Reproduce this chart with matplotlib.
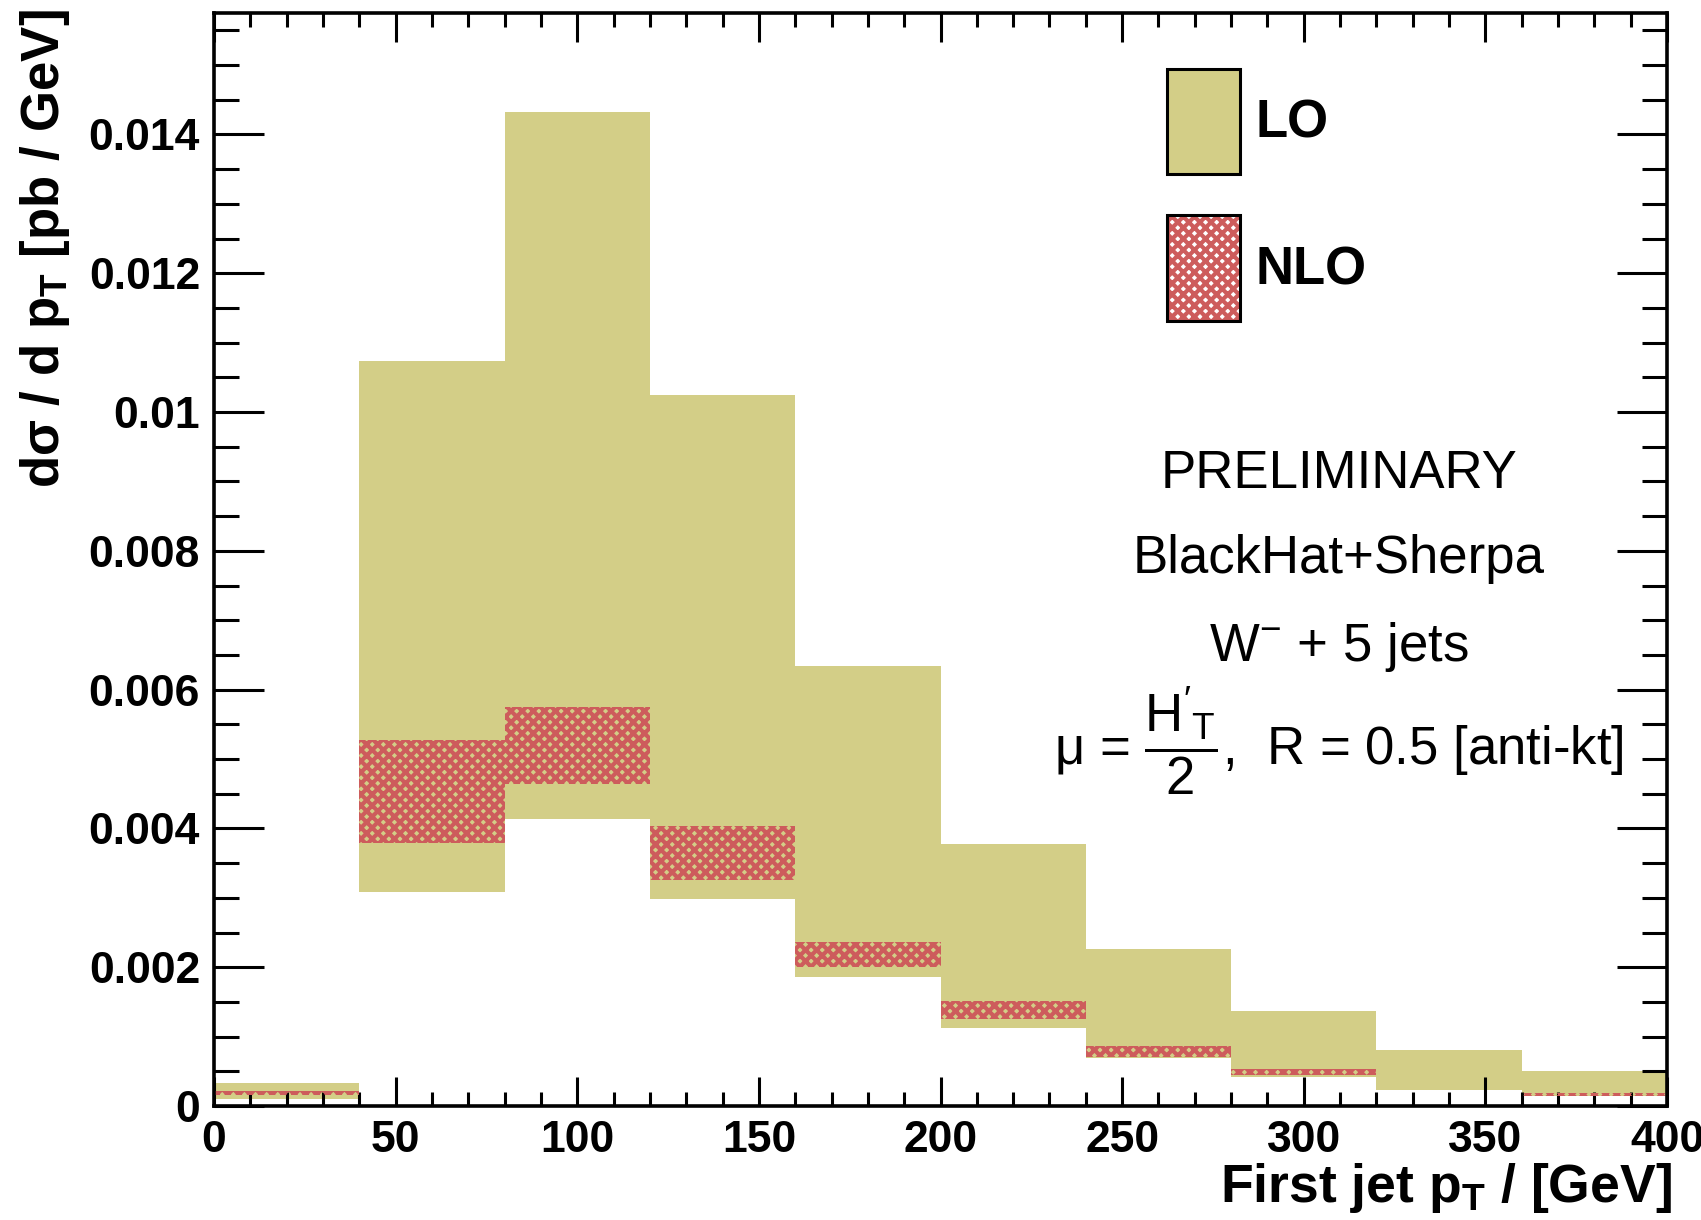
import numpy as np
import matplotlib
matplotlib.use("Agg")
import matplotlib.pyplot as plt
from matplotlib.ticker import MultipleLocator, FuncFormatter
from matplotlib.patches import Patch
from matplotlib.legend_handler import HandlerTuple

# ---- data ----
bin_edges = [0, 40, 80, 120, 160, 200, 240, 280, 320, 360, 400]
lo_low  = [0.00010, 0.00308, 0.00414, 0.00298, 0.00186, 0.00112, 0.00069, 0.00042, 0.00023, 0.00014]
lo_high = [0.00033, 0.01074, 0.01433, 0.01024, 0.00634, 0.00378, 0.00226, 0.00137, 0.00081, 0.00050]
nlo_low  = [0.00016, 0.00379, 0.00464, 0.00326, 0.00200, 0.00125, 0.00070, 0.00044, np.nan, 0.00015]
nlo_high = [0.00022, 0.00528, 0.00575, 0.00403, 0.00237, 0.00151, 0.00086, 0.00054, np.nan, 0.00019]
x_label = "First jet p$_{\\mathbf{T}}$ / [GeV]"
y_label = "d$\\mathregular{\\sigma}$ / d p$_{\\mathbf{T}}$ [pb / GeV]"
legend_labels = ["LO", "NLO"]
info_lines = ["PRELIMINARY", "BlackHat+Sherpa", "W$^{-}$ + 5 jets"]
scale_line = "μ = $\\dfrac{\\mathrm{H}'_{\\mathrm{T}}}{2}$,  R = 0.5 [anti-kt]"

LO_COLOR = "#D3CE87"
NLO_COLOR = "#CD5C5C"
HATCH = "xxx"

plt.rcParams["font.family"] = ["Liberation Sans", "DejaVu Sans"]
plt.rcParams["mathtext.fontset"] = "custom"
plt.rcParams["mathtext.rm"] = "Liberation Sans"
plt.rcParams["mathtext.it"] = "Liberation Sans:italic"
plt.rcParams["mathtext.bf"] = "Liberation Sans:bold"
plt.rcParams["hatch.linewidth"] = 3.0

fig = plt.figure(figsize=(17.01, 12.20), dpi=100)
ax = fig.add_axes([214/1701, 1 - 1106/1220, (1667-214)/1701, (1106-13)/1220])

edges = np.array(bin_edges, dtype=float)
left = edges[:-1]
width = np.diff(edges)
lo_low_a, lo_high_a = np.array(lo_low), np.array(lo_high)
nlo_low_a, nlo_high_a = np.array(nlo_low), np.array(nlo_high)

ax.bar(left, lo_high_a - lo_low_a, bottom=lo_low_a, width=width, align="edge",
       color=LO_COLOR, linewidth=0, zorder=1)
m = ~np.isnan(nlo_low_a)
ax.bar(left[m], (nlo_high_a - nlo_low_a)[m], bottom=nlo_low_a[m], width=width[m], align="edge",
       facecolor="none", edgecolor=NLO_COLOR, hatch=HATCH, linewidth=0, zorder=2)

ax.set_xlim(0, 400)
ax.set_ylim(0, 0.01575)

ax.xaxis.set_major_locator(MultipleLocator(50))
ax.xaxis.set_minor_locator(MultipleLocator(10))
ax.yaxis.set_major_locator(MultipleLocator(0.002))
ax.yaxis.set_minor_locator(MultipleLocator(0.0005))
ax.yaxis.set_major_formatter(FuncFormatter(lambda v, p: f"{v:g}"))
ax.xaxis.set_major_formatter(FuncFormatter(lambda v, p: f"{v:g}"))

ax.tick_params(axis="both", which="both", direction="in", top=True, right=True, width=2.2)
ax.tick_params(axis="y", which="major", length=36, pad=10)
ax.tick_params(axis="y", which="minor", length=18)
ax.tick_params(axis="x", which="major", length=21, pad=10)
ax.tick_params(axis="x", which="minor", length=10)
ax.tick_params(axis="both", which="major", labelsize=32)
for lab in ax.get_xticklabels() + ax.get_yticklabels():
    lab.set_fontweight("bold")
for s in ax.spines.values():
    s.set_linewidth(2.6)
    s.set_zorder(5)

ax.set_xlabel(x_label, fontsize=38.5, fontweight="bold", ha="right")
ax.xaxis.set_label_coords(1.003, -0.05)
fig.text(45/1701, 1 - 9/1220, y_label, rotation=90, ha="center", va="top",
         fontsize=38, fontweight="bold")

# legend
h_lo = Patch(facecolor=LO_COLOR, edgecolor="black", linewidth=2.2)
h_nlo_fill = Patch(facecolor="white", edgecolor=NLO_COLOR, hatch=HATCH, linewidth=0)
h_nlo_edge = Patch(facecolor="none", edgecolor="black", linewidth=2.2)
leg = ax.legend([h_lo, (h_nlo_fill, h_nlo_edge)], legend_labels,
                handler_map={tuple: HandlerTuple(ndivide=1, pad=0)},
                loc="upper left", bbox_to_anchor=(0.656, 0.949), frameon=False,
                borderpad=0, borderaxespad=0, handlelength=1.38, handleheight=2.7,
                handletextpad=0.3, labelspacing=0.78,
                prop={"family": "Liberation Sans", "weight": "bold", "size": 38})

# info text
info_y = [0.578, 0.500, 0.420]
for t, yy in zip(info_lines, info_y):
    ax.text(0.774, yy, t, transform=ax.transAxes, ha="center", va="center", fontsize=38)
ax.text(0.774, 0.334, scale_line, transform=ax.transAxes, ha="center", va="center", fontsize=38)

fig.savefig("out.png", dpi=100)
